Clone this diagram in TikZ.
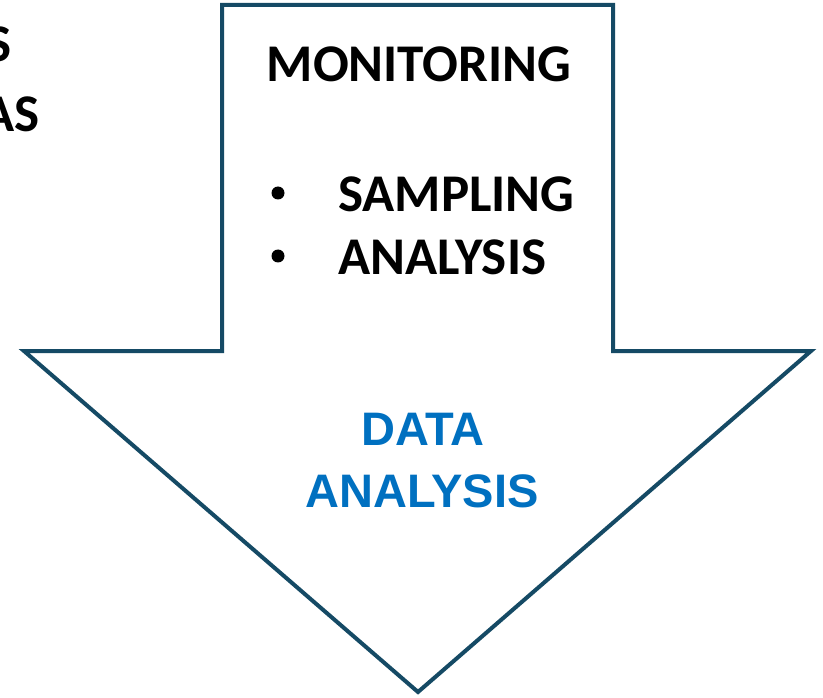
\documentclass[tikz,border=0pt]{standalone}
\usepackage{fontspec}
\setmainfont{Carlito}
\newfontfamily\arialfont{Liberation Sans}
\definecolor{arrowline}{RGB}{21,74,101}
\definecolor{datablue}{RGB}{0,112,192}
\tikzset{
  label/.style={inner sep=0pt, font=\fontsize{53}{60}\selectfont\bfseries, text=black},
  bluelabel/.style={inner sep=0pt, font=\arialfont\fontsize{47}{52}\selectfont\bfseries, text=datablue},
  bulletdot/.style={circle, fill=black, inner sep=0pt, minimum size=13pt},
  arrowshape/.style={draw=arrowline, line width=4pt, line join=miter, fill=white}
}
\begin{document}
\begin{tikzpicture}[x=1pt,y=-1pt]
\useasboundingbox (0,0) rectangle (823,698);
\fill[white] (0,0) rectangle (823,698);
\draw[arrowshape] (222,5) -- (613,5) -- (613,351) -- (811,351) -- (418,692) -- (24,351) -- (222,351) -- cycle;
\node[label, anchor=base east] (s1) at (12,62) {S};
\node[label, anchor=base east] (s2) at (40,132) {AS};
\node[label, anchor=base] (mon) at (419,82) {MONITORING};
\node[bulletdot] (b1) at (278,193) {};
\node[label, anchor=base west] (samp) at (338,212) {SAMPLING};
\node[bulletdot] (b2) at (278,256) {};
\node[label, anchor=base west] (anal) at (338,275) {ANALYSIS};
\node[bluelabel, anchor=base] (data) at (423,445) {DATA};
\node[bluelabel, anchor=base] (danal) at (422,507) {ANALYSIS};
\end{tikzpicture}
\end{document}
